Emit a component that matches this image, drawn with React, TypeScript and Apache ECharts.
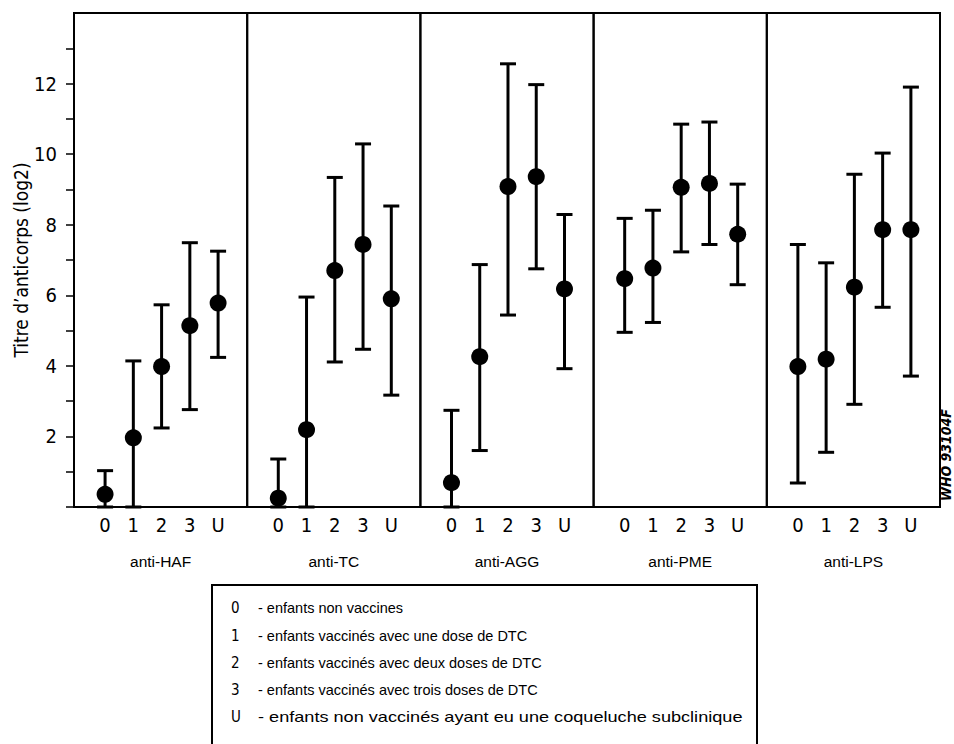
import React, { useEffect, useRef } from "react";
import * as echarts from "echarts";

const categories = ["0", "1", "2", "3", "U"];
const panelNames = ["anti-HAF", "anti-TC", "anti-AGG", "anti-PME", "anti-LPS"];

const meanHAF = [0.36, 1.96, 3.98, 5.14, 5.78];
const lowHAF = [0, 0, 2.24, 2.76, 4.24];
const highHAF = [1.03, 4.14, 5.73, 7.49, 7.25];

const meanTC = [0.25, 2.19, 6.7, 7.44, 5.9];
const lowTC = [0, 0, 4.11, 4.47, 3.17];
const highTC = [1.36, 5.95, 9.34, 10.29, 8.53];

const meanAGG = [0.69, 4.26, 9.08, 9.36, 6.18];
const lowAGG = [0, 1.6, 5.44, 6.75, 3.92];
const highAGG = [2.74, 6.87, 12.56, 11.97, 8.29];

const meanPME = [6.47, 6.77, 9.06, 9.17, 7.73];
const lowPME = [4.95, 5.23, 7.23, 7.44, 6.3];
const highPME = [8.18, 8.41, 10.85, 10.91, 9.15];

const meanLPS = [3.98, 4.19, 6.23, 7.86, 7.86];
const lowLPS = [0.68, 1.55, 2.91, 5.66, 3.71];
const highLPS = [7.44, 6.92, 9.43, 10.03, 11.9];

const yLabelValues = [2, 4, 6, 8, 10, 12];
const yTickValues = [0, 1, 2, 3, 4, 5, 6, 7, 8, 9, 10, 11, 12, 13];

const legendKeys = ["0", "1", "2", "3", "U"];
const legendTexts = [
  "- enfants non vaccines",
  "- enfants vaccinés avec une dose de DTC",
  "- enfants vaccinés avec deux doses de DTC",
  "- enfants vaccinés avec trois doses de DTC",
  "- enfants non vaccinés ayant eu une coqueluche subclinique",
];

const yTitle = "Titre d’anticorps (log2)";
const stamp = "WHO 93104F";

const means = [meanHAF, meanTC, meanAGG, meanPME, meanLPS];
const lows = [lowHAF, lowTC, lowAGG, lowPME, lowLPS];
const highs = [highHAF, highTC, highAGG, highPME, highLPS];

const NARROW = '"DejaVu Sans Condensed", "Liberation Sans Narrow", "Liberation Sans", sans-serif';
const SANS = '"Liberation Sans", Arial, sans-serif';

export default function App() {
  const ref = useRef<HTMLDivElement>(null);
  useEffect(() => {
    if (!ref.current) return;
    const chart = echarts.init(ref.current, undefined, { renderer: "svg" });
    const left0 = 74;
    const pw = 173.2;
    const top = 13;
    const height = 494;

    const grids: any[] = [];
    const xAxes: any[] = [];
    const yAxes: any[] = [];
    const series: any[] = [];

    panelNames.forEach((name, i) => {
      grids.push({
        left: left0 + i * pw,
        top,
        width: pw,
        height,
        show: true,
        borderColor: "#000",
        borderWidth: 2,
        backgroundColor: "transparent",
      });
      xAxes.push({
        type: "value",
        gridIndex: i,
        min: -1.1,
        max: 5.03,
        splitLine: { show: false },
        axisLine: { show: false, onZero: false },
        axisTick: { show: false },
        axisLabel: {
          customValues: [0, 1, 2, 3, 4],
          formatter: (v: number) => {
            const k = Math.round(v);
            return Math.abs(v - k) < 1e-6 && k >= 0 && k < categories.length ? categories[k] : "";
          },
          color: "#000",
          fontFamily: NARROW,
          fontSize: 20,
          margin: 8,
        },
        name,
        nameLocation: "middle",
        nameGap: 46,
        nameTextStyle: { color: "#000", fontFamily: SANS, fontSize: 15.5 },
      });
      yAxes.push({
        type: "value",
        gridIndex: i,
        min: 0,
        max: 14,
        interval: 1,
        show: i === 0,
        splitLine: { show: false },
        axisLine: { show: i === 0, onZero: false, lineStyle: { color: "#000", width: 2 } },
        axisTick: {
          show: i === 0,
          length: 8,
          customValues: yTickValues,
          lineStyle: { color: "#000", width: 1.5 },
        },
        axisLabel: {
          show: i === 0,
          customValues: yLabelValues,
          formatter: (v: number) => (v % 2 === 0 && v > 0 && v < 14 ? String(v) : ""),
          color: "#000",
          fontFamily: NARROW,
          fontSize: 20,
          margin: 17,
        },
        name: i === 0 ? yTitle : "",
        nameLocation: "middle",
        nameRotate: 90,
        nameGap: 44,
        nameTextStyle: { color: "#000", fontFamily: NARROW, fontSize: 19 },
      });
      series.push({
        type: "custom",
        xAxisIndex: i,
        yAxisIndex: i,
        clip: false,
        data: categories.map((_, k) => [k, lows[i][k], highs[i][k]]),
        encode: { x: 0, y: [1, 2] },
        renderItem: (params: any, api: any) => {
          const x = api.value(0);
          const pLo = api.coord([x, api.value(1)]);
          const pHi = api.coord([x, api.value(2)]);
          const hw = 8;
          const style = { stroke: "#000", lineWidth: 3 };
          return {
            type: "group",
            children: [
              { type: "line", shape: { x1: pLo[0], y1: pLo[1], x2: pHi[0], y2: pHi[1] }, style },
              { type: "line", shape: { x1: pLo[0] - hw, y1: pLo[1], x2: pLo[0] + hw, y2: pLo[1] }, style },
              { type: "line", shape: { x1: pHi[0] - hw, y1: pHi[1], x2: pHi[0] + hw, y2: pHi[1] }, style },
            ],
          };
        },
        z: 3,
      });
      series.push({
        type: "scatter",
        xAxisIndex: i,
        yAxisIndex: i,
        data: categories.map((_, k) => [k, means[i][k]]),
        symbol: "circle",
        symbolSize: 17,
        itemStyle: { color: "#000", opacity: 1 },
        clip: false,
        z: 4,
      });
    });

    const graphics: any[] = [
      {
        type: "rect",
        shape: { x: 212, y: 585, width: 545, height: 220 },
        style: { fill: "none", stroke: "#000", lineWidth: 2 },
      },
    ];
    const rowY = [608, 635.5, 662.5, 690, 716.5];
    const rowScale = [1, 1, 1, 1, 1.25];
    legendKeys.forEach((k, i) => {
      graphics.push({
        type: "text",
        x: 231,
        y: rowY[i],
        style: { text: k, font: `15px ${NARROW}`, fill: "#000", verticalAlign: "middle", align: "left" },
      });
      graphics.push({
        type: "text",
        x: 258,
        y: rowY[i],
        scaleX: rowScale[i],
        style: { text: legendTexts[i], font: `14.5px ${SANS}`, fill: "#000", verticalAlign: "middle", align: "left" },
      });
    });
    graphics.push({
      type: "text",
      x: 946,
      y: 455,
      rotation: Math.PI / 2,
      style: { text: stamp, font: `italic bold 14px ${NARROW}`, fill: "#000", align: "center", verticalAlign: "middle" },
    });

    chart.setOption({
      animation: false,
      backgroundColor: "#fff",
      grid: grids,
      xAxis: xAxes,
      yAxis: yAxes,
      series,
      graphic: graphics,
    });
    return () => chart.dispose();
  }, []);
  return (
    <div
      ref={ref}
      style={{ position: "absolute", left: 0, top: 0, width: 954, height: 744 }}
    />
  );
}
